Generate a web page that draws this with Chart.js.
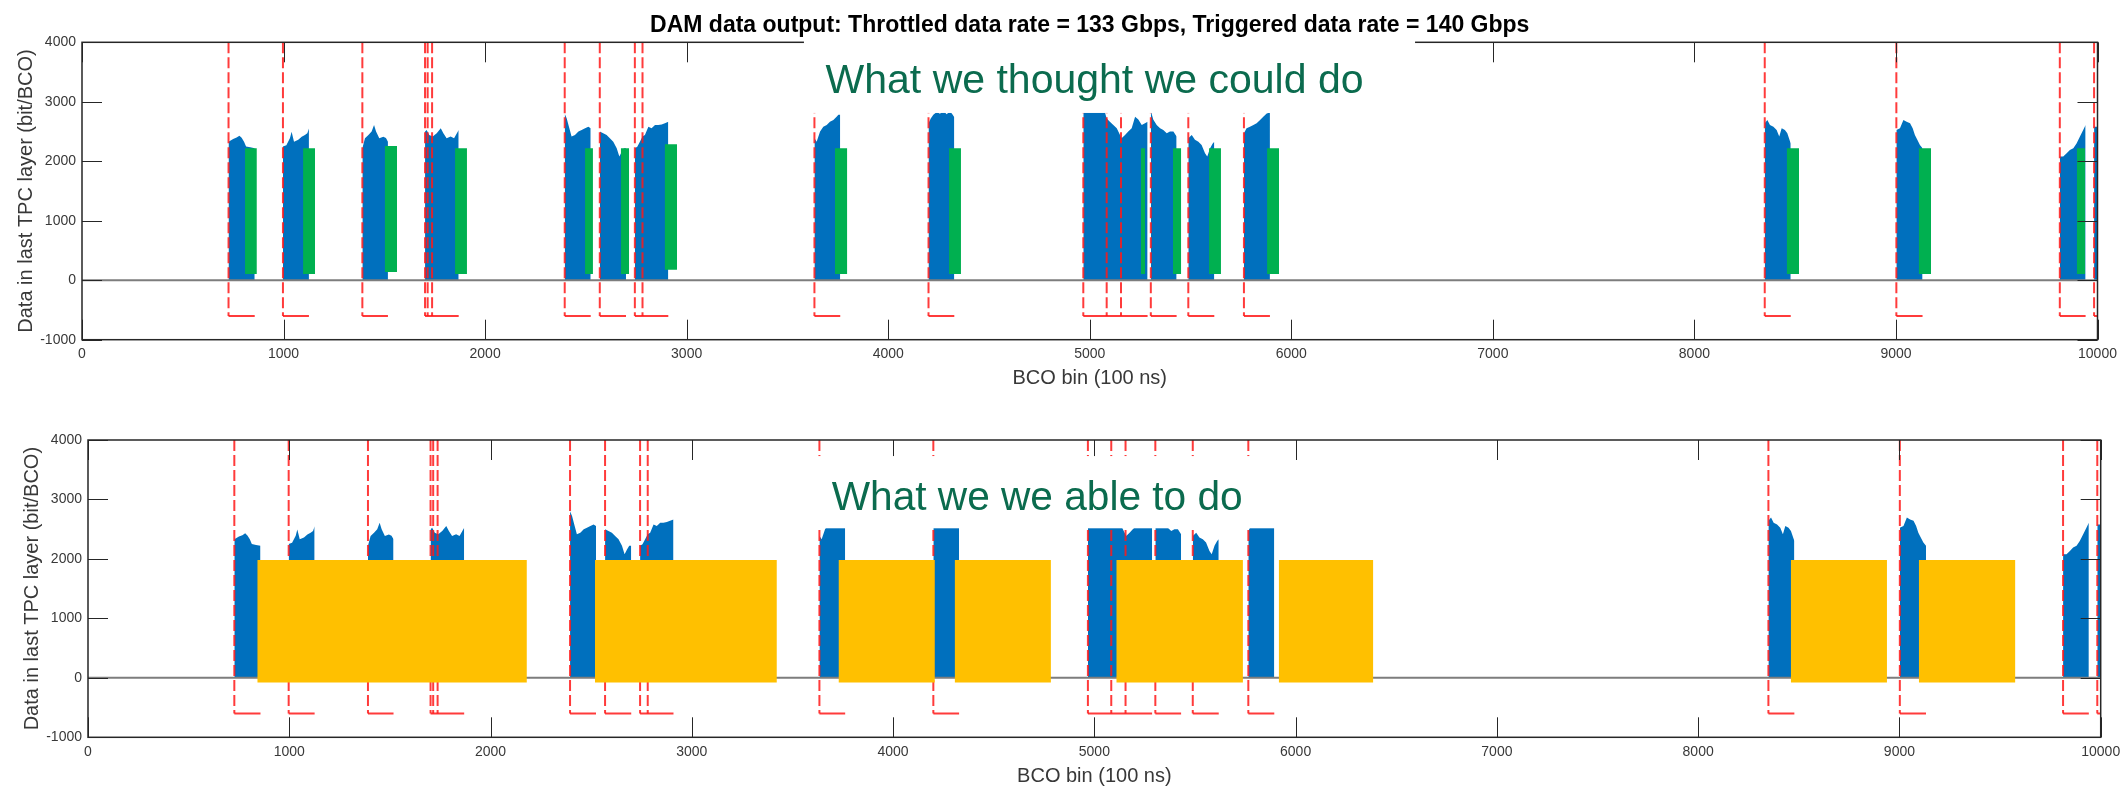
<!DOCTYPE html>
<html>
<head>
<meta charset="utf-8">
<title>DAM data output</title>
<script src="https://cdn.jsdelivr.net/npm/chart.js@4.4.0/dist/chart.umd.min.js"></script>
<style>
  html, body { margin: 0; padding: 0; background: #fff; }
  #wrap { position: relative; width: 2122px; height: 786px; overflow: hidden; }
  #wrap canvas { position: absolute; left: 0; }
  #top { top: 0; }
  #bottom { top: 393px; }
</style>
</head>
<body>
<div id="wrap">
  <canvas id="top" width="2122" height="393"></canvas>
  <canvas id="bottom" width="2122" height="393"></canvas>
</div>
<script>
// ── Data ──────────────────────────────────────────────────────────────────────
const TITLE   = 'DAM data output: Throttled data rate = 133 Gbps, Triggered data rate = 140 Gbps';
const X_LABEL = 'BCO bin (100 ns)';
const Y_LABEL = 'Data in last TPC layer (bit/BCO)';
const X_MIN = 0, X_MAX = 10000, X_STEP = 1000;
const Y_MIN = -1000, Y_MAX = 4000, Y_STEP = 1000;

// trigger BCOs (red dashed) and where each trigger window closes
const triggers = [727, 997, 1391, 1702, 1715, 1737, 2395, 2569, 2743, 2781, 3634, 4200,
                  4968, 5084, 5155, 5303, 5489, 5765, 8349, 9002, 9813, 9983];
const gateEnds = [857, 1126, 1518, 1869, 1869, 1869, 2524, 2699, 2909, 2909, 3762, 4328,
                  5287, 5287, 5287, 5431, 5618, 5894, 8478, 9132, 9941, 10000];
const GATE_LOW = -600;

// data rate inside each triggered window, [bco, bit/BCO]
const bursts = [
  [[727,2330],[750,2375],[767,2400],[781,2430],[792,2395],[804,2330],[814,2250],[835,2235],[857,2220]],
  [[997,2250],[1014,2270],[1032,2390],[1040,2495],[1052,2330],[1073,2360],[1090,2410],[1106,2440],[1118,2470],[1126,2550]],
  [[1391,2220],[1404,2385],[1421,2440],[1437,2500],[1449,2610],[1459,2500],[1475,2385],[1495,2410],[1508,2390],[1518,2330]],
  [[1702,2500],[1710,2525],[1723,2440],[1740,2415],[1760,2470],[1780,2555],[1793,2470],[1809,2385],[1829,2415],[1846,2385],[1869,2525]],
  [[2395,2800],[2405,2720],[2418,2555],[2429,2415],[2446,2440],[2463,2500],[2479,2525],[2496,2555],[2512,2580],[2524,2555]],
  [[2569,2500],[2586,2470],[2603,2440],[2619,2385],[2636,2330],[2653,2220],[2666,2080],[2678,2160],[2689,2220],[2699,2220]],
  [[2743,2220],[2755,2245],[2768,2330],[2781,2415],[2793,2440],[2810,2580],[2826,2555],[2843,2610],[2859,2610],[2876,2620],[2892,2640],[2909,2665]],
  [[3634,2390],[3645,2330],[3662,2500],[3678,2580],[3695,2610],[3711,2665],[3728,2695],[3744,2750],[3753,2780],[3762,2780]],
  [[4200,2640],[4211,2720],[4224,2780],[4241,2830],[4257,2800],[4274,2850],[4290,2790],[4307,2840],[4320,2780],[4328,2740]],
  [[4968,2900],[5001,2950],[5034,2880],[5067,2920],[5084,2720],[5100,2665],[5117,2610],[5134,2555],[5158,2385],[5175,2440],
   [5191,2500],[5208,2555],[5225,2750],[5241,2700],[5258,2610],[5274,2640],[5287,2665]],
  [[5303,2850],[5315,2700],[5332,2610],[5349,2555],[5365,2525],[5382,2470],[5398,2500],[5415,2500],[5431,2415]],
  [[5489,2385],[5506,2440],[5522,2360],[5539,2330],[5555,2275],[5572,2135],[5583,2080],[5597,2220],[5610,2300],[5618,2330]],
  [[5765,2470],[5778,2555],[5795,2580],[5812,2610],[5828,2640],[5845,2695],[5861,2750],[5878,2805],[5894,2820]],
  [[8349,2640],[8362,2695],[8375,2610],[8392,2580],[8408,2525],[8421,2415],[8433,2555],[8449,2525],[8461,2470],[8478,2300]],
  [[9002,2525],[9020,2555],[9037,2695],[9053,2665],[9070,2640],[9083,2555],[9094,2440],[9106,2360],[9119,2275],[9132,2220]],
  [[9813,2080],[9830,2080],[9847,2135],[9863,2190],[9880,2220],[9896,2300],[9913,2415],[9929,2525],[9941,2610]],
  [[9983,2580],[10000,2580]],
];

// throttled output blocks (top, green)
const greenStart = [809, 1097, 1503, 1851, 2496, 2674, 2892, 3736, 4302, 5254, 5413, 5592, 5880, 8459, 9114, 9898];
const greenEnd   = [867, 1156, 1563, 1910, 2535, 2714, 2952, 3796, 4361, 5274, 5453, 5651, 5939, 8519, 9174, 9938];
const greenLow   = [105, 105, 140, 105, 105, 105, 175, 105, 105, 105, 105, 105, 105, 105, 105, 105];
const greenHigh  = [2220, 2220, 2255, 2220, 2220, 2220, 2285, 2220, 2220, 2220, 2220, 2220, 2220, 2220, 2220, 2220];

// achieved output blocks (bottom, yellow)
const yellowStart = [842, 2519, 3730, 4307, 5110, 5917, 8461, 9097];
const yellowEnd   = [2180, 3422, 4207, 4784, 5738, 6385, 8938, 9575];
const YELLOW_LOW = -80, YELLOW_HIGH = 1980;

const NOTE_TOP    = 'What we thought we could do';
const NOTE_BOTTOM = 'What we we able to do';

// ── Style ─────────────────────────────────────────────────────────────────────
const FONT = '"Liberation Sans", Arial, Helvetica, sans-serif';
const AXIS_COLOR = '#262626';
const LABEL_COLOR = '#383838';
const BLUE = '#0070BE';
const GREEN = '#00B050';
const YELLOW = '#FFC000';
const RED = 'rgba(255, 25, 25, 0.85)';
const NOTE_GREEN = '#0B6B4E';
const BASE_GRAY = '#7d7d7d';
const TICK_LEN = 20;

// ── Builders ──────────────────────────────────────────────────────────────────
function burstPoints() {
  const pts = [];
  bursts.forEach(b => {
    const x0 = b[0][0], x1 = b[b.length - 1][0];
    pts.push({ x: x0, y: 0 });
    b.forEach(([x, y]) => pts.push({ x, y }));
    pts.push({ x: x1, y: 0 }, { x: x1, y: null });
  });
  return pts;
}

function rectPoints(x0s, x1s, lows, highs) {
  const pts = [];
  x0s.forEach((x0, i) => {
    const x1 = x1s[i], lo = lows[i], hi = highs[i];
    pts.push({ x: x0, y: lo }, { x: x0, y: hi }, { x: x1, y: hi }, { x: x1, y: lo }, { x: x1, y: null });
  });
  return pts;
}

const gateLines = () => triggers.flatMap(t => [{ x: t, y: Y_MAX }, { x: t, y: GATE_LOW }, { x: t, y: null }]);
const gateFeet = () => triggers.flatMap((t, i) => [{ x: t, y: GATE_LOW }, { x: gateEnds[i], y: GATE_LOW }, { x: gateEnds[i], y: null }]);

// ── Plugins ───────────────────────────────────────────────────────────────────
// MATLAB style box with inward ticks on all four sides
const frame = {
  id: 'frame',
  afterDatasetsDraw(chart) {
    const { ctx, chartArea: a, scales: { x, y } } = chart;
    ctx.save();
    ctx.strokeStyle = AXIS_COLOR;
    ctx.lineWidth = 1;
    ctx.beginPath();
    x.ticks.forEach(t => {
      const px = Math.round(x.getPixelForValue(t.value)) + 0.5;
      ctx.moveTo(px, a.bottom); ctx.lineTo(px, a.bottom - TICK_LEN);
      ctx.moveTo(px, a.top); ctx.lineTo(px, a.top + TICK_LEN);
    });
    y.ticks.forEach(t => {
      const py = Math.round(y.getPixelForValue(t.value)) + 0.5;
      ctx.moveTo(a.left, py); ctx.lineTo(a.left + TICK_LEN, py);
      ctx.moveTo(a.right, py); ctx.lineTo(a.right - TICK_LEN, py);
    });
    ctx.stroke();
    ctx.lineWidth = 1.5;
    ctx.strokeRect(a.left, a.top, a.right - a.left, a.bottom - a.top);
    ctx.restore();
  }
};

// white slide text box pasted over the plot, with its green caption
const callout = {
  id: 'callout',
  afterDraw(chart, args, o) {
    const { ctx, scales: { x, y } } = chart;
    const c = o.cover;
    const x0 = x.getPixelForValue(c[0]), x1 = x.getPixelForValue(c[1]);
    const y0 = y.getPixelForValue(c[3]), y1 = y.getPixelForValue(c[2]);
    ctx.save();
    ctx.fillStyle = '#fff';
    ctx.fillRect(x0, y0, x1 - x0, y1 - y0);
    ctx.font = `41px ${FONT}`;
    ctx.fillStyle = NOTE_GREEN;
    ctx.textBaseline = 'alphabetic';
    const w = ctx.measureText(o.text).width;
    ctx.translate(x.getPixelForValue(o.at[0]), y.getPixelForValue(o.at[1]));
    ctx.scale(o.width / w, 1);
    ctx.fillText(o.text, 0, 0);
    ctx.restore();
  }
};

// ── Chart factory ─────────────────────────────────────────────────────────────
function makeChart(id, cfg) {
  const datasets = [
    { label: 'rate', data: burstPoints(), backgroundColor: BLUE, borderColor: 'transparent', borderWidth: 0, fill: 'origin', order: 5 },
    { label: 'baseline', data: [{ x: X_MIN, y: 0 }, { x: X_MAX, y: 0 }], borderColor: BASE_GRAY, borderWidth: 2, fill: false, order: 3 },
    { label: 'trigger', data: gateLines(), borderColor: RED, borderWidth: 2, borderDash: [11, 4], fill: false, order: 2 },
    { label: 'window', data: gateFeet(), borderColor: RED, borderWidth: 2, fill: false, order: 2 },
    cfg.blocks,
  ];
  return new Chart(document.getElementById(id), {
    type: 'line',
    data: { datasets },
    plugins: [frame, callout],
    options: {
      responsive: false,
      animation: false,
      layout: { padding: cfg.padding },
      elements: { point: { radius: 0, hoverRadius: 0 }, line: { tension: 0 } },
      plugins: {
        legend: { display: false },
        tooltip: { enabled: false },
        title: {
          display: cfg.showTitle,
          text: TITLE,
          fullSize: false,
          color: '#000',
          font: { family: FONT, size: 23, weight: 'bold' },
          padding: { top: 12, bottom: 2.7 },
        },
        callout: cfg.callout,
      },
      scales: {
        x: {
          type: 'linear', min: X_MIN, max: X_MAX,
          ticks: { stepSize: X_STEP, color: LABEL_COLOR, font: { family: FONT, size: 14 }, padding: 6,
                   maxRotation: 0, autoSkip: false, callback: v => String(v) },
          grid: { display: false, drawTicks: false },
          border: { display: false },
          title: { display: true, text: X_LABEL, color: LABEL_COLOR,
                   font: { family: FONT, size: 20, lineHeight: 1 }, padding: { top: 0, bottom: cfg.xTitlePad } },
          afterFit: s => { s.height = cfg.xHeight; s.paddingLeft = 0; s.paddingRight = 0; },
        },
        y: {
          type: 'linear', min: Y_MIN, max: Y_MAX,
          ticks: { stepSize: Y_STEP, color: LABEL_COLOR, font: { family: FONT, size: 14 }, padding: 6,
                   callback: v => String(v) },
          grid: { display: false, drawTicks: false },
          border: { display: false },
          title: { display: true, text: Y_LABEL, color: LABEL_COLOR,
                   font: { family: FONT, size: 20 }, padding: { top: 14, bottom: 0 } },
          afterFit: s => { s.width = 82; s.paddingTop = 0; s.paddingBottom = 0; },
        },
      },
    },
  });
}

makeChart('top', {
  showTitle: true,
  padding: { left: 0, right: 24.5, top: 0, bottom: 0 },
  xHeight: 53.3,
  xTitlePad: 4.5,
  blocks: { label: 'throttled', data: rectPoints(greenStart, greenEnd, greenLow, greenHigh),
            backgroundColor: GREEN, borderColor: 'transparent', borderWidth: 0, fill: 'shape', order: 4 },
  callout: { cover: [3582, 6614, 2812, 4060], text: NOTE_TOP, at: [3689, 3153], width: 538 },
});

makeChart('bottom', {
  showTitle: false,
  padding: { left: 6, right: 21.3, top: 47, bottom: 0 },
  xHeight: 48.7,
  xTitlePad: 0,
  blocks: { label: 'achieved', data: rectPoints(yellowStart, yellowEnd, yellowStart.map(() => YELLOW_LOW), yellowStart.map(() => YELLOW_HIGH)),
            backgroundColor: YELLOW, borderColor: 'transparent', borderWidth: 0, fill: 'shape', order: 1 },
  callout: { cover: [3040, 5950, 2515, 3730], text: NOTE_BOTTOM, at: [3695, 2820], width: 411 },
});
</script>
</body>
</html>
